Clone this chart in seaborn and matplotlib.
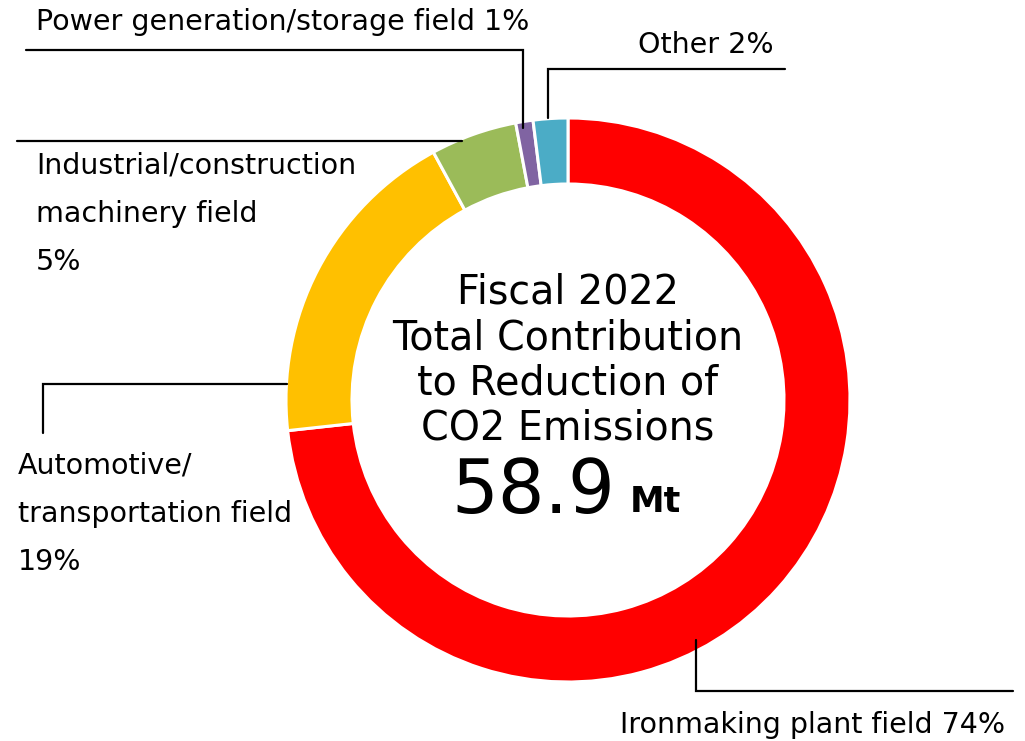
import matplotlib
matplotlib.use("Agg")
import matplotlib.pyplot as plt
import seaborn as sns

# data
fields = ["Ironmaking plant field", "Automotive/transportation field",
          "Industrial/construction machinery field", "Power generation/storage field", "Other"]
shares = [74, 19, 5, 1, 2]
colors = ["#FF0000", "#FFC000", "#9BBB59", "#8064A2", "#4BACC6"]
total_mt = "58.9"

sns.set_theme(style="white")
plt.rcParams["font.family"] = ["DejaVu Sans"]
plt.rcParams["text.color"] = "black"

W, H = 1025, 741
fig = plt.figure(figsize=(W / 100, H / 100), dpi=100)
ax = fig.add_axes([0, 0, 1, 1])

cx, cy, r = 568, H - 400, 282
ax.pie(shares, colors=colors, startangle=90, counterclock=False,
       center=(cx, cy), radius=r,
       wedgeprops=dict(width=66, edgecolor="white", linewidth=2.2))
ax.set_xlim(0, W)
ax.set_ylim(0, H)
ax.set_aspect("equal")
ax.axis("off")


def Y(y):
    return H - y


# leader lines (image pixel coords)
leaders = [
    [(26, 50), (523, 50), (523, 128)],
    [(785, 69), (548, 69), (548, 118)],
    [(17, 141), (462, 141)],
    [(43, 433), (43, 384), (287, 384)],
    [(696, 640), (696, 691), (1013, 691)],
]
for pts in leaders:
    ax.plot([p[0] for p in pts], [Y(p[1]) for p in pts], color="black", lw=1.6,
            solid_joinstyle="miter")

fs = 20.5
ax.text(36, Y(22), f"{fields[3]} {shares[3]}%", fontsize=fs, va="center", ha="left")
ax.text(638, Y(45), f"{fields[4]} {shares[4]}%", fontsize=fs, va="center", ha="left")
for i, s in enumerate(["Industrial/construction", "machinery field", f"{shares[2]}%"]):
    ax.text(36, Y(165 + 48.5 * i), s, fontsize=fs, va="center", ha="left")
for i, s in enumerate(["Automotive/", "transportation field", f"{shares[1]}%"]):
    ax.text(18, Y(465 + 48.5 * i), s, fontsize=fs, va="center", ha="left")
ax.text(620, Y(725), f"{fields[0]} {shares[0]}%", fontsize=fs, va="center", ha="left")

for i, s in enumerate(["Fiscal 2022", "Total Contribution", "to Reduction of", "CO2 Emissions"]):
    ax.text(cx, Y(293 + 45.3 * i), s, fontsize=28.5, va="center", ha="center")
ax.text(615, Y(492), total_mt, fontsize=53, va="center", ha="right")
ax.text(630, Y(502), "Mt", fontsize=25, va="center", ha="left", fontweight="bold")

fig.savefig("out.png", dpi=100)
